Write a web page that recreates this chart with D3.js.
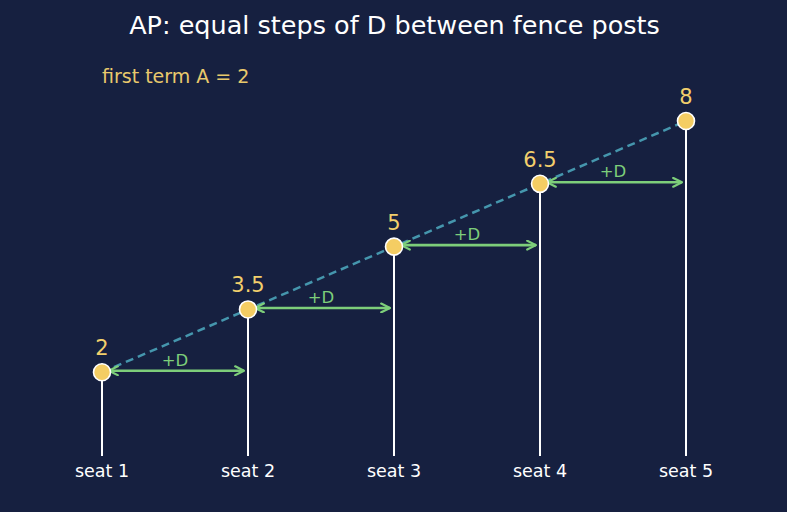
<!DOCTYPE html>
<html>
<head>
<meta charset="utf-8">
<script src="https://cdn.jsdelivr.net/npm/d3@7/dist/d3.min.js"></script>
<style>
  html, body { margin: 0; padding: 0; background: #162040; }
  svg { display: block; font-family: "DejaVu Sans", sans-serif; }
</style>
</head>
<body>
<div id="chart"></div>
<script>
var seats = ["seat 1", "seat 2", "seat 3", "seat 4", "seat 5"];
var terms = [2, 3.5, 5, 6.5, 8];
var termLabels = ["2", "3.5", "5", "6.5", "8"];
var stepLabel = "+D";
var firstTermNote = "first term A = 2";
var title = "AP: equal steps of D between fence posts";

var width = 787, height = 512;

var svg = d3.select("#chart").append("svg")
	.attr("width", width)
	.attr("height", height)
	.style("background", "#162040");

var defs = svg.append("defs");
defs.append("marker")
	.attr("id", "arrowHead")
	.attr("viewBox", "0 0 10 10")
	.attr("refX", 9).attr("refY", 5)
	.attr("markerWidth", 11).attr("markerHeight", 11)
	.attr("markerUnits", "userSpaceOnUse")
	.attr("orient", "auto-start-reverse")
	.append("path")
	.attr("d", "M1,1 L9,5 L1,9")
	.attr("fill", "none")
	.attr("stroke", "#7dce7a")
	.attr("stroke-width", 2)
	.attr("stroke-linecap", "round")
	.attr("stroke-linejoin", "round");

var x = d3.scalePoint().domain(seats).range([102, 686]);
var y = d3.scaleLinear().domain([0, 8]).range([456, 121]);

// title
svg.append("text")
	.attr("x", width / 2 + 1).attr("y", 34)
	.attr("text-anchor", "middle")
	.attr("fill", "#ffffff")
	.style("font-size", "25.5px")
	.text(title);

svg.append("text")
	.attr("x", 102).attr("y", 83)
	.attr("fill", "#e9c96c")
	.style("font-size", "19px")
	.text(firstTermNote);

// fence posts
svg.selectAll(".post").data(terms).enter().append("line")
	.attr("class", "post")
	.attr("x1", function(d, i) { return x(seats[i]); })
	.attr("x2", function(d, i) { return x(seats[i]); })
	.attr("y1", function(d) { return y(d); })
	.attr("y2", y(0))
	.attr("stroke", "#ffffff")
	.attr("stroke-width", 2);

// dashed trend line
var line = d3.line()
	.x(function(d, i) { return x(seats[i]); })
	.y(function(d) { return y(d); });
svg.append("path")
	.datum(terms)
	.attr("d", line)
	.attr("fill", "none")
	.attr("stroke", "#4596ad")
	.attr("stroke-width", 2.5)
	.attr("stroke-dasharray", "8,5");

// +D arrows
var steps = terms.slice(0, -1);
svg.selectAll(".step").data(steps).enter().append("line")
	.attr("class", "step")
	.attr("x1", function(d, i) { return x(seats[i]) + 7; })
	.attr("x2", function(d, i) { return x(seats[i + 1]) - 4; })
	.attr("y1", function(d) { return y(d) - 1.5; })
	.attr("y2", function(d) { return y(d) - 1.5; })
	.attr("stroke", "#7dce7a")
	.attr("stroke-width", 2.6)
	.attr("marker-start", "url(#arrowHead)")
	.attr("marker-end", "url(#arrowHead)");

svg.selectAll(".stepLabel").data(steps).enter().append("text")
	.attr("class", "stepLabel")
	.attr("x", function(d, i) { return (x(seats[i]) + x(seats[i + 1])) / 2; })
	.attr("y", function(d) { return y(d) - 6.5; })
	.attr("text-anchor", "middle")
	.attr("fill", "#7dce7a")
	.style("font-size", "16.5px")
	.text(stepLabel);

// points
svg.selectAll(".pt").data(terms).enter().append("circle")
	.attr("class", "pt")
	.attr("cx", function(d, i) { return x(seats[i]); })
	.attr("cy", function(d) { return y(d); })
	.attr("r", 8.5)
	.attr("fill", "#f4cd63")
	.attr("stroke", "#ffffff")
	.attr("stroke-width", 1.6);

svg.selectAll(".val").data(terms).enter().append("text")
	.attr("class", "val")
	.attr("x", function(d, i) { return x(seats[i]); })
	.attr("y", function(d) { return y(d) - 17; })
	.attr("text-anchor", "middle")
	.attr("fill", "#f2cf6c")
	.style("font-size", "21px")
	.text(function(d, i) { return termLabels[i]; });

// seat axis labels
svg.selectAll(".seat").data(seats).enter().append("text")
	.attr("class", "seat")
	.attr("x", function(d) { return x(d); })
	.attr("y", 477)
	.attr("text-anchor", "middle")
	.attr("fill", "#ffffff")
	.style("font-size", "17.5px")
	.text(function(d) { return d; });
</script>
</body>
</html>
